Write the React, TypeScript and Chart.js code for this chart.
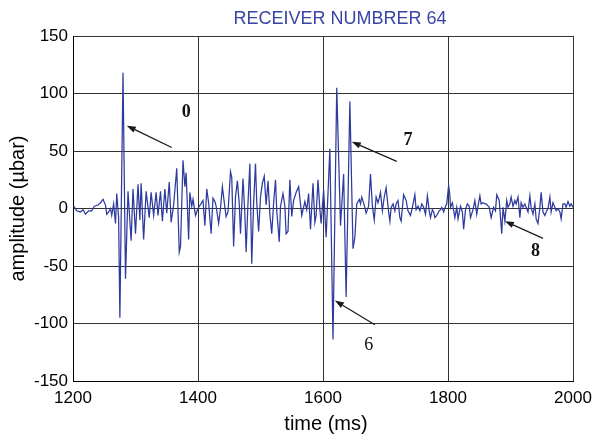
import React, { useEffect, useRef } from "react";
import { Chart, registerables } from "chart.js";

Chart.register(...registerables);

// ---- data (time in ms, amplitude in µbar) ----
const timeMs: number[] = [
  1201, 1206, 1212, 1216, 1220, 1225, 1230, 1234, 1240, 1244, 1248, 1252, 1254, 1257, 1260, 1262, 1265, 1268, 1270, 1273,
  1275, 1280, 1284,
  1288, 1293, 1296, 1300, 1304, 1307, 1309, 1313, 1317, 1322, 1325, 1329, 1333, 1336, 1340, 1343, 1347, 1350, 1354, 1357,
  1361, 1366, 1370, 1372, 1376, 1379, 1381, 1385, 1387, 1390, 1392, 1396, 1400,
  1408, 1411, 1414, 1417, 1421, 1424, 1427, 1429, 1433, 1436, 1439, 1443, 1445, 1448, 1452, 1454, 1457, 1460, 1463, 1466,
  1468, 1472, 1475, 1477, 1480, 1483, 1486, 1489, 1492, 1494, 1497, 1500, 1503, 1506, 1509, 1512, 1515, 1518, 1521, 1524,
  1526, 1530, 1532, 1536, 1539, 1541, 1544, 1547, 1550, 1553, 1557, 1561, 1564, 1566, 1571, 1574, 1577, 1580, 1584, 1587,
  1589, 1592, 1595, 1597, 1601, 1605,
  1611, 1616, 1622, 1628, 1633, 1637, 1643, 1648, 1651, 1654, 1658, 1660, 1662, 1666, 1669, 1673, 1676, 1679, 1682, 1685,
  1688, 1690, 1692, 1695, 1698, 1701, 1705, 1707,
  1709, 1712, 1715, 1717, 1720, 1723, 1725, 1729, 1733, 1736, 1740, 1743, 1747, 1749, 1752, 1755, 1758, 1761, 1764, 1767,
  1770, 1772, 1775, 1777, 1779, 1782, 1786, 1788, 1790, 1793, 1796, 1798, 1801, 1803, 1804, 1807, 1811, 1814, 1816, 1820,
  1823, 1825, 1828, 1831, 1834, 1836, 1840, 1843, 1846, 1848, 1851,
  1853, 1856, 1859, 1861, 1866, 1869, 1873, 1876, 1878, 1882, 1884, 1886, 1888, 1891, 1894, 1896, 1899, 1901, 1904, 1907,
  1909, 1912, 1915, 1917, 1920, 1923, 1925, 1928, 1931, 1933, 1936, 1939, 1941, 1944, 1947, 1949, 1952, 1955, 1957, 1960,
  1963, 1965, 1968, 1971, 1973, 1976, 1979, 1981, 1984, 1987, 1989, 1992, 1995, 1997, 2000,
];

const amplitude: number[] = [
  2, -2, -3, -1, -5, -2, -2, 2, 3, 5, 8, 3, -5, -3, 0, -6, 4, -13, 13, -8,
  -95, 118, -61,
  15, -28, 17, -22, 21, -10, 22, -27, 15, -8, 14, -6, 14, -6, 15, -11, 17, -4, 23, -12,
  3, 35, -38, -33, 42, 19, 31, -27, 14, 2, 8, -6, 0,
  7, -15, 17, 5, -22, 9, 6, 2, -13, 0, 19, 1, -7, -3, 32, 27, -33, 10, 24, 4,
  -22, 26, -5, -38, 5, 39, -48, 5, 39, 5, -20, 10, 22, 28, 3, 24, -5, -22, 5, 25,
  -2, -29, 2, 13, 2, -22, -20, 25, -7, 7, 14, 19, 4, -6, 6, -1, 13, -18, 22, -12,
  -6, 25, -1, -13, 16, -25,
  52, -114, 105, -15, 30, -77, 93, -35, -25, 4, 8, 4, 10, 3, -4, 2, 30, 2, -10, 10,
  5, 9, 14, -2, 10, 18, -3, -11,
  1, 4, -2, 4, 7, -8, -11, 12, 7, -2, -6, 1, 12, -1, 2, -2, 4, 1, -5, 11,
  -2, -8, -1, -3, -8, -6, -2, -1, 1, -3, 2, 4, 20, 12, 1, 5, -8, 1, -9, 2,
  -3, -18, -1, 4, 2, -8, -1, 7, -5, 2, 11,
  4, 5, 4, 4, 1, -8, 1, -2, 12, 7, -8, -22, 1, -11, 7, 1, 4, 10, 2, 7,
  4, 10, -8, 5, 1, 4, 1, -3, 11, 1, -5, 4, -9, -13, 1, 14, -3, -6, -3, 0,
  10, -3, 5, 1, -2, 0, -3, -9, 4, 4, 1, 6, 2, 4, 1,
];

const xTickValues: number[] = [1200, 1400, 1600, 1800, 2000];
const yTickValues: number[] = [-150, -100, -50, 0, 50, 100, 150];

const chartTitle = "RECEIVER NUMBRER 64";
const xTitle = "time (ms)";
const yTitle = "amplitude (µbar)";

// annotations (data coordinates)
const noteText: string[] = ["0", "7", "6", "8"];
const noteBold: boolean[] = [true, true, false, true];
const noteX: number[] = [1381, 1736, 1673, 1940];
const noteY: number[] = [84, 59, -119, -37];
const arrowTailX: number[] = [1358, 1718, 1683, 1952];
const arrowTailY: number[] = [53, 41, -101, -26];
const arrowHeadX: number[] = [1286, 1646, 1619, 1891];
const arrowHeadY: number[] = [72, 58, -80, -11];

const SANS = '"Liberation Sans", Arial, Helvetica, sans-serif';
const SERIF = '"Liberation Serif", "Times New Roman", serif';

const overlayPlugin = {
  id: "overlay",
  afterDatasetsDraw(chart: any) {
    const { ctx, chartArea } = chart;
    const xs = chart.scales.x;
    const ys = chart.scales.y;
    ctx.save();
    // arrows
    ctx.strokeStyle = "#1a1a1a";
    ctx.fillStyle = "#1a1a1a";
    ctx.lineWidth = 1.2;
    for (let i = 0; i < arrowTailX.length; i++) {
      const tx = xs.getPixelForValue(arrowTailX[i]);
      const ty = ys.getPixelForValue(arrowTailY[i]);
      const hx = xs.getPixelForValue(arrowHeadX[i]);
      const hy = ys.getPixelForValue(arrowHeadY[i]);
      const ang = Math.atan2(hy - ty, hx - tx);
      const len = 9;
      const w = 3.2;
      const bx = hx - len * Math.cos(ang);
      const by = hy - len * Math.sin(ang);
      ctx.beginPath();
      ctx.moveTo(tx, ty);
      ctx.lineTo(bx, by);
      ctx.stroke();
      ctx.beginPath();
      ctx.moveTo(hx, hy);
      ctx.lineTo(bx + w * Math.sin(ang), by - w * Math.cos(ang));
      ctx.lineTo(bx - w * Math.sin(ang), by + w * Math.cos(ang));
      ctx.closePath();
      ctx.fill();
    }
    // labels
    ctx.textAlign = "center";
    ctx.textBaseline = "middle";
    ctx.fillStyle = "#111";
    for (let i = 0; i < noteText.length; i++) {
      ctx.font = `${noteBold[i] ? "bold " : ""}18px ${SERIF}`;
      ctx.fillText(noteText[i], xs.getPixelForValue(noteX[i]), ys.getPixelForValue(noteY[i]));
    }
    // title
    const cx = (chartArea.left + chartArea.right) / 2;
    ctx.font = `18px ${SANS}`;
    ctx.fillStyle = "#3a44a6";
    ctx.fillText(chartTitle, cx + 17, 19);
    // axis titles
    ctx.fillStyle = "#000";
    ctx.font = `20px ${SANS}`;
    ctx.fillText(xTitle, cx + 3, 424);
    ctx.save();
    ctx.translate(18, (chartArea.top + chartArea.bottom) / 2);
    ctx.rotate(-Math.PI / 2);
    ctx.fillText(yTitle, 0, 0);
    ctx.restore();
    ctx.restore();
  },
};

export default function App() {
  const canvasRef = useRef<HTMLCanvasElement | null>(null);

  useEffect(() => {
    document.body.style.margin = "0";
    const canvas = canvasRef.current;
    if (!canvas) return;
    const points = timeMs.map((t, i) => ({ x: t, y: amplitude[i] }));
    const chart = new Chart(canvas, {
      type: "line",
      data: {
        datasets: [
          {
            data: points,
            borderColor: "#2d3a9e",
            borderWidth: 1.25,
            pointRadius: 0,
            tension: 0,
            fill: false,
          },
        ],
      },
      options: {
        responsive: false,
        animation: false,
        devicePixelRatio: 1,
        layout: { padding: { left: 0, right: 22, top: 36, bottom: 0 } },
        plugins: {
          legend: { display: false },
          tooltip: { enabled: false },
          title: { display: false },
        },
        scales: {
          x: {
            type: "linear",
            min: 1200,
            max: 2000,
            afterFit: (s: any) => {
              s.height = 57;
              s.paddingRight = 0;
              s.paddingLeft = 0;
            },
            afterBuildTicks: (s: any) => {
              s.ticks = xTickValues.map((v) => ({ value: v }));
            },
            ticks: {
              color: "#000",
              font: { family: SANS, size: 17 },
              padding: 7,
              maxRotation: 0,
              autoSkip: false,
              callback: (v: any) => String(v),
            },
            grid: { color: "#333", lineWidth: 1, drawTicks: false },
            border: { display: true, color: "#000", width: 1 },
          },
          y: {
            type: "linear",
            min: -150,
            max: 150,
            afterFit: (s: any) => {
              s.width = 73;
            },
            afterBuildTicks: (s: any) => {
              s.ticks = yTickValues.map((v) => ({ value: v }));
            },
            ticks: {
              color: "#000",
              font: { family: SANS, size: 17 },
              padding: 5,
              autoSkip: false,
              callback: (v: any) => String(v),
            },
            grid: { color: "#333", lineWidth: 1, drawTicks: false },
            border: { display: true, color: "#000", width: 1 },
          },
        },
      },
      plugins: [overlayPlugin],
    } as any);
    return () => chart.destroy();
  }, []);

  return (
    <div style={{ width: 595, height: 438, background: "#fff" }}>
      <canvas ref={canvasRef} width={595} height={438} style={{ display: "block" }} />
    </div>
  );
}
